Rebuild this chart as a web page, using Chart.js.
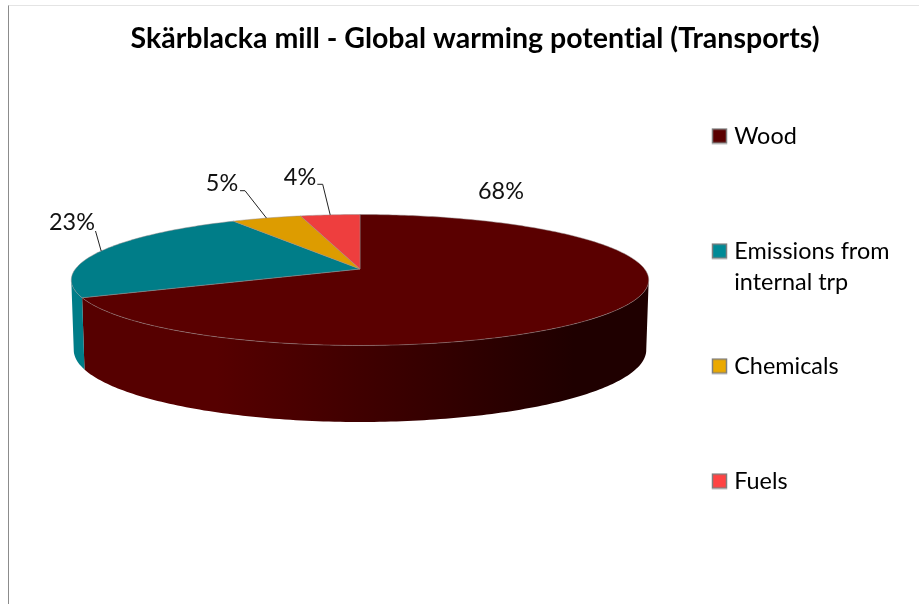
<!DOCTYPE html>
<html>
<head>
<meta charset="utf-8">
<script src="https://cdn.jsdelivr.net/npm/chart.js@4"></script>
<style>
  html, body { margin: 0; padding: 0; background: #fff; }
  #wrap { position: relative; width: 919px; height: 604px; overflow: hidden; }
  #frame { position: absolute; left: 8px; top: 5px; right: 0; bottom: 0;
           border-left: 1.5px solid #8c8c8c; border-top: 1px solid #e4e4e4; }
  canvas { position: absolute; left: 0; top: 0; }
</style>
</head>
<body>
<div id="wrap">
  <div id="frame"></div>
  <canvas id="pie" width="919" height="604"></canvas>
</div>
<script>
const categories = [['Wood', ''], ['Emissions from', 'internal trp'], ['Chemicals', ''], ['Fuels', '']];
const shares = [68.1, 23.4, 4.6, 3.9];
const titleText = 'Skärblacka mill - Global warming potential (Transports)';

const faceColors = ['#5a0000', '#007d88', '#dd9c00', '#ee3e3e'];
const legendColors = ['#5a0000', '#008a96', '#eaa900', '#ff4343'];

// where each percent label sits, and the elbow of its leader line (null = no leader)
const labelSpots = [[501, 191], [72, 222], [222, 183], [300, 177]];
const leaderStarts = [null, [[95.5, 231]], [[240, 190.7], [245, 190.7]], [[317.3, 184.3], [322.7, 184.3]]];

const FONT = 'Lato, "Open Sans", sans-serif';

// fake 3D: project the flat pie on to a tilted disc with a bit of perspective
const PERSP = 0.168;
const topRing = { scale: 1, y0: 269, tilt: 18.44 };
const lowRing = { scale: 0.9915, y0: 337.9, tilt: 13.2 };

function project(el, ring, angle){
  const u = Math.cos(angle), v = -Math.sin(angle);
  const d = 1 + PERSP * v;
  return [el.x + el.outerRadius * ring.scale * u / d, (ring.y0 - ring.tilt * v) / d];
}

function traceRing(ctx, el, ring, from, to, first){
  const steps = Math.max(2, Math.ceil(Math.abs(to - from) * 60));
  for (let i = 0; i <= steps; i++){
    const p = project(el, ring, from + (to - from) * i / steps);
    if (i === 0 && first) ctx.moveTo(p[0], p[1]); else ctx.lineTo(p[0], p[1]);
  }
}

function woodWallGradient(ctx){
  const g = ctx.createLinearGradient(72, 0, 649, 0);
  g.addColorStop(0.25, '#560000');
  g.addColorStop(0.87, '#1f0000');
  return g;
}

const pie3d = {
  id: 'pie3d',
  afterLayout(chart){
    // title is centred on the plot frame, legend sits in its own column
    chart.titleBlock.left = 31;
    chart.titleBlock.right = 919;
    const legend = chart.legend;
    const pad = legend.options.labels.padding;
    legend.left = 716.5 - pad;
    legend.right = 919;
    legend.top = 124.3 - pad;
    legend.bottom = 604;
  },
  beforeDraw(chart){
    // a tiny letter spacing switches off the "ti" ligature of Lato
    chart.ctx.letterSpacing = '0.01px';
  },
  beforeDatasetsDraw(chart){
    const ctx = chart.ctx;
    const arcs = chart.getDatasetMeta(0).data;
    const edge = Math.asin(PERSP);
    ctx.save();

    // side wall, front half only
    arcs.forEach((el, i) => {
      const from = Math.max(el.startAngle, edge);
      const to = Math.min(el.endAngle, Math.PI - edge);
      if (to <= from) return;
      ctx.beginPath();
      traceRing(ctx, el, topRing, from, to, true);
      traceRing(ctx, el, lowRing, to, from, false);
      ctx.closePath();
      ctx.fillStyle = i === 0 ? woodWallGradient(ctx) : faceColors[i];
      ctx.fill();
    });

    // top face
    arcs.forEach((el, i) => {
      ctx.beginPath();
      ctx.moveTo(el.x, topRing.y0);
      traceRing(ctx, el, topRing, el.startAngle, el.endAngle, false);
      ctx.closePath();
      ctx.fillStyle = faceColors[i];
      ctx.fill();
      ctx.strokeStyle = 'rgba(150,140,140,0.6)';
      ctx.lineWidth = 0.8;
      ctx.stroke();
    });
    ctx.restore();
    return false; // the flat arcs stay undrawn
  },
  afterDraw(chart){
    const ctx = chart.ctx;
    const arcs = chart.getDatasetMeta(0).data;
    const total = shares.reduce((a, b) => a + b, 0);
    ctx.save();
    ctx.font = '23.4px ' + FONT;
    ctx.textAlign = 'center';
    ctx.textBaseline = 'middle';
    arcs.forEach((el, i) => {
      ctx.fillStyle = '#111';
      ctx.fillText(Math.round(shares[i] / total * 100) + '%', labelSpots[i][0], labelSpots[i][1]);
      if (!leaderStarts[i]) return;
      const end = project(el, topRing, (el.startAngle + el.endAngle) / 2);
      ctx.beginPath();
      leaderStarts[i].forEach((p, k) => k ? ctx.lineTo(p[0], p[1]) : ctx.moveTo(p[0], p[1]));
      ctx.lineTo(end[0], end[1]);
      ctx.strokeStyle = '#222';
      ctx.lineWidth = 1;
      ctx.stroke();
    });
    ctx.restore();
  }
};

// legend swatch is wider than the box Chart.js reserves, keeps the text close to it
function swatch(color){
  const c = document.createElement('canvas');
  c.width = 17; c.height = 17;
  const x = c.getContext('2d');
  x.fillStyle = color;
  x.fillRect(1, 1, 15, 15);
  x.strokeStyle = '#7f7f7f';
  x.lineWidth = 1.5;
  x.strokeRect(1.5, 1.5, 14, 14);
  return c;
}

new Chart(document.getElementById('pie').getContext('2d'), {
  type: 'pie',
  data: {
    labels: categories,
    datasets: [{ data: shares, backgroundColor: legendColors, borderWidth: 0 }]
  },
  plugins: [pie3d],
  options: {
    responsive: false,
    animation: false,
    radius: 284.6,
    layout: { padding: { left: 0, right: 199, top: 0, bottom: 0 } },
    plugins: {
      tooltip: { enabled: false },
      title: {
        display: true,
        text: titleText,
        color: '#000',
        font: { family: FONT, size: 28.5, weight: 'bold' },
        padding: { top: 22, bottom: 10 }
      },
      legend: {
        position: 'chartArea',
        align: 'start',
        labels: {
          color: '#111',
          font: { family: FONT, size: 23.4, lineHeight: 1.325 },
          padding: 53,
          usePointStyle: true,
          pointStyleWidth: 6,
          boxHeight: 15,
          generateLabels(chart){
            return categories.map((text, i) => ({
              text,
              fillStyle: legendColors[i],
              strokeStyle: '#7f7f7f',
              lineWidth: 1,
              pointStyle: swatch(legendColors[i]),
              index: i
            }));
          }
        }
      }
    }
  }
});
</script>
</body>
</html>
